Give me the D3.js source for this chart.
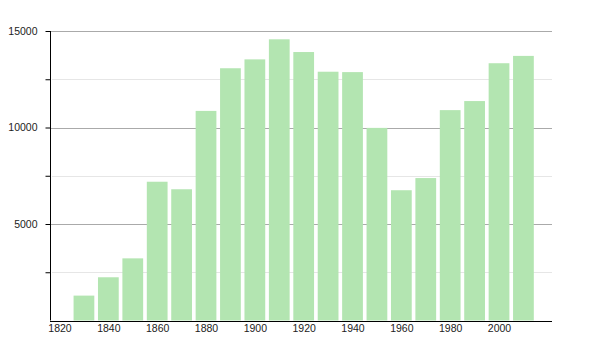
<!DOCTYPE html>
<html>
<head>
<meta charset="utf-8">
<script src="https://cdn.jsdelivr.net/npm/d3@7"></script>
<style>
  body { margin: 0; background: #fff; }
  svg text { font-family: "Liberation Sans", Arial, sans-serif; }
</style>
</head>
<body>
<div id="container"></div>
<script>
const years = [1830, 1840, 1850, 1860, 1870, 1880, 1890, 1900, 1910, 1920,
  1930, 1940, 1950, 1960, 1970, 1980, 1990, 2000, 2010];
const population = [1290, 2240, 3220, 7190, 6800, 10860, 13070, 13530, 14570, 13910,
  12890, 12870, 9980, 6750, 7380, 10900, 11370, 13330, 13710];
const yMajorTicks = [5000, 10000, 15000];
const yMinorTicks = [2500, 7500, 12500];
const xTicks = [1820, 1840, 1860, 1880, 1900, 1920, 1940, 1960, 1980, 2000];

const data = years.map((year, i) => ({year, value: population[i]}));

const svg = d3.select("#container")
  .append("svg")
  .attr("width", 600)
  .attr("height", 350);

const x = d3.scaleLinear()
  .domain([1816.1, 2021.7])
  .range([50, 552]);

const y = d3.scaleLinear()
  .domain([0, 15000])
  .range([320.5, 31]);

const barWidth = x(1838.5) - x(1830);

// grid lines
svg.append("g")
  .selectAll("line")
  .data(yMinorTicks)
  .join("line")
  .attr("x1", 52)
  .attr("x2", 552)
  .attr("y1", d => Math.round(y(d)) + 0.5)
  .attr("y2", d => Math.round(y(d)) + 0.5)
  .attr("stroke", "#e6e6e6");

svg.append("g")
  .selectAll("line")
  .data(yMajorTicks)
  .join("line")
  .attr("x1", 50)
  .attr("x2", 552)
  .attr("y1", d => Math.round(y(d)) + 0.5)
  .attr("y2", d => Math.round(y(d)) + 0.5)
  .attr("stroke", "#aaaaaa");

// bars
svg.append("g")
  .selectAll("rect")
  .data(data)
  .join("rect")
  .attr("x", d => x(d.year) - barWidth / 2)
  .attr("width", barWidth)
  .attr("y", d => y(d.value))
  .attr("height", d => y(0) - y(d.value))
  .attr("fill", "#b3e5b1");

// y axis
const yAxis = svg.append("g")
  .attr("transform", "translate(50.5,0)")
  .call(d3.axisLeft(y)
    .tickValues(yMajorTicks.concat(yMinorTicks))
    .tickSize(5)
    .tickFormat(d => yMajorTicks.includes(d) ? d : ""));
yAxis.select(".domain").attr("d", `M0,${y(15000)}V${y(0)}`).attr("stroke", "#000");
yAxis.selectAll(".tick line").attr("stroke", "#000");
yAxis.selectAll(".tick text")
  .attr("x", -13)
  .style("font-size", "10.5px")
  .attr("fill", "#222");

// x axis
const xAxis = svg.append("g")
  .attr("transform", `translate(0,${Math.round(y(0)) + 0.5})`)
  .call(d3.axisBottom(x)
    .tickValues(xTicks)
    .tickSize(0)
    .tickPadding(3.5)
    .tickFormat(d3.format("d")));
xAxis.select(".domain").attr("d", "M50,0H552").attr("stroke", "#000");
xAxis.selectAll(".tick text")
  .style("font-size", "10.5px")
  .attr("fill", "#222");
</script>
</body>
</html>
